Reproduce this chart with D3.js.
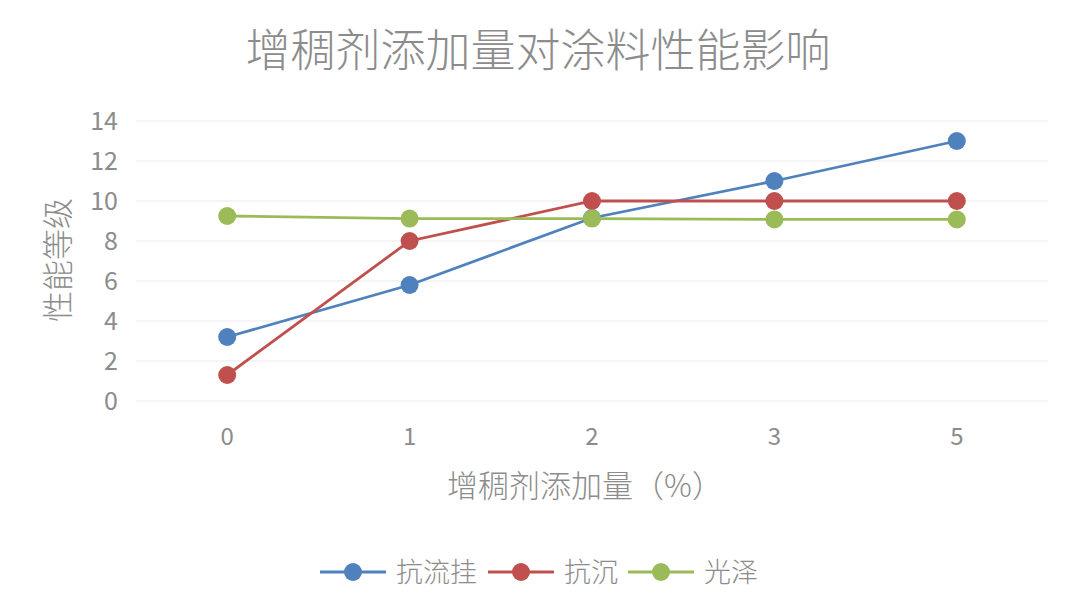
<!DOCTYPE html>
<html>
<head>
<meta charset="utf-8">
<script src="https://cdn.jsdelivr.net/npm/d3@7"></script>
<style>
  body { margin: 0; background: #fff; }
  text { font-family: "Noto Sans CJK SC", "Open Sans", sans-serif; }
</style>
</head>
<body>
<div id="chart"></div>
<script>
// Data
const categories = ["0", "1", "2", "3", "5"];
const seriesNames = ["抗流挂", "抗沉", "光泽"];
const antiSag = [3.2, 5.8, 9.15, 11, 13];
const antiSettle = [1.3, 8, 10, 10, 10];
const gloss = [9.25, 9.12, 9.12, 9.08, 9.08];
const yTicks = [0, 2, 4, 6, 8, 10, 12, 14];
const colors = ["#4f81bd", "#c0504d", "#9bbb59"];

const series = [antiSag, antiSettle, gloss].map((vals, i) => ({
    name: seriesNames[i],
    color: colors[i],
    values: vals.map((v, j) => ({ cat: categories[j], v: v }))
}));

// Format container
const width = 1080;
const height = 613;
const margin = { top: 121, right: 32, bottom: 212, left: 136 };

const svg = d3.select("#chart").append("svg")
    .attr("width", width)
    .attr("height", height)
    .attr("viewBox", [0, 0, width, height]);

const x = d3.scaleBand().domain(categories)
    .range([margin.left, width - margin.right]);

const y = d3.scaleLinear().domain([0, 14])
    .range([height - margin.bottom, margin.top]);

const cx = d => x(d) + x.bandwidth() / 2;

// Gridlines
svg.append("g")
    .selectAll("line")
    .data(yTicks)
    .join("line")
    .attr("x1", margin.left)
    .attr("x2", width - margin.right)
    .attr("y1", d => y(d))
    .attr("y2", d => y(d))
    .attr("stroke", "#f0f0f0")
    .attr("stroke-width", 1.5);

// Y axis labels
const yAxis = g => g
    .attr("transform", `translate(${margin.left - 18},0)`)
    .call(d3.axisLeft(y).tickValues(yTicks).tickSize(0).tickPadding(0))
    .call(g => g.select(".domain").remove())
    .call(g => g.selectAll("text")
        .attr("fill", "#8c8c8c")
        .attr("font-size", 25)
        .attr("font-family", "'Open Sans', sans-serif"));

svg.append("g").call(yAxis);

// X axis labels
const xAxis = g => g
    .attr("transform", `translate(0,${height - margin.bottom + 27})`)
    .call(d3.axisBottom(x).tickSize(0).tickPadding(0))
    .call(g => g.select(".domain").remove())
    .call(g => g.selectAll("text")
        .attr("fill", "#8c8c8c")
        .attr("font-size", 24)
        .attr("font-family", "'Open Sans', sans-serif"));

svg.append("g").call(xAxis);

// Lines and markers
const line = d3.line()
    .x(d => cx(d.cat))
    .y(d => y(d.v));

const sg = svg.append("g")
    .selectAll("g")
    .data(series)
    .join("g");

sg.append("path")
    .attr("d", d => line(d.values))
    .attr("fill", "none")
    .attr("stroke", d => d.color)
    .attr("stroke-width", 2.8);

sg.selectAll("circle")
    .data(d => d.values.map(p => ({ ...p, color: d.color })))
    .join("circle")
    .attr("cx", d => cx(d.cat))
    .attr("cy", d => y(d.v))
    .attr("r", 9)
    .attr("fill", d => d.color);

// Chart title
svg.append("text")
    .attr("x", 538)
    .attr("y", 67)
    .attr("text-anchor", "middle")
    .attr("font-size", 45)
    .attr("font-weight", 300)
    .attr("fill", "#8c8c8c")
    .text("增稠剂添加量对涂料性能影响");

// Axis titles
svg.append("text")
    .attr("x", 585)
    .attr("y", 497)
    .attr("text-anchor", "middle")
    .attr("font-size", 31)
    .attr("font-weight", 300)
    .attr("fill", "#8c8c8c")
    .text("增稠剂添加量（%）");

svg.append("text")
    .attr("transform", `translate(69,260) rotate(-90)`)
    .attr("text-anchor", "middle")
    .attr("font-size", 31)
    .attr("font-weight", 300)
    .attr("fill", "#8c8c8c")
    .text("性能等级");

// Legend
const legendX = [320, 488, 628];
const legend = svg.append("g")
    .selectAll("g")
    .data(series)
    .join("g")
    .attr("transform", (d, i) => `translate(${legendX[i]},572)`);

legend.append("line")
    .attr("x1", 0).attr("x2", 66)
    .attr("stroke", d => d.color)
    .attr("stroke-width", 2.8);

legend.append("circle")
    .attr("cx", 33)
    .attr("r", 9)
    .attr("fill", d => d.color);

legend.append("text")
    .attr("x", 76)
    .attr("y", 10)
    .attr("font-size", 27)
    .attr("font-weight", 300)
    .attr("fill", "#8c8c8c")
    .text(d => d.name);
</script>
</body>
</html>
